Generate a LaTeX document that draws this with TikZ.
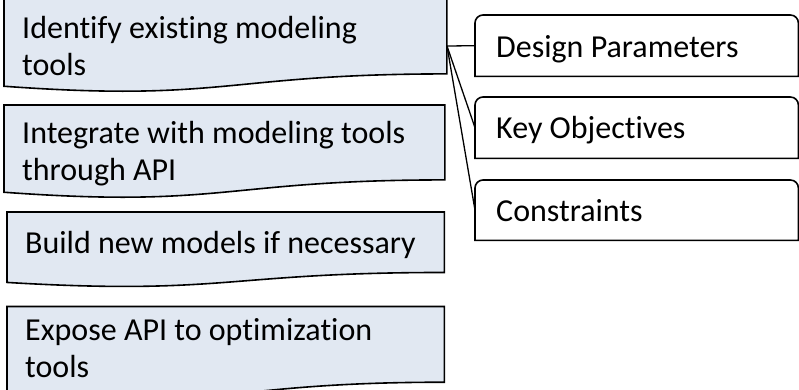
\documentclass[tikz,border=0pt]{standalone}
\usepackage{fontspec}
\setmainfont{Carlito}[Ligatures=NoCommon]
\usetikzlibrary{calc}
\definecolor{boxfill}{HTML}{E1E8F2}
\tikzset{
  docbox/.style={draw=none, inner sep=0pt, anchor=north west},
  doctext/.style={inner sep=0pt, anchor=base west, text width=430pt, align=flush left,
    font=\fontsize{32}{37.5}\selectfont},
  sidetext/.style={inner sep=0pt, anchor=base west,
    font=\fontsize{32}{37.5}\selectfont},
  docline/.style={draw=black, line width=1.6pt, fill=boxfill, line join=miter},
  tabline/.style={draw=black, line width=1.6pt, fill=white},
  link/.style={draw=black, line width=1.3pt}
}
\newcommand{\docshape}[1]{%
  \path[docline] (#1.north west) -- (#1.north east)
    -- ($(#1.north east)!0.802!(#1.south east)$)
    .. controls ($(#1.north)!0.802!(#1.south)$) and ($(#1.north)!1.107!(#1.south)$)
    .. ($(#1.north west)!0.934!(#1.south west)$) -- cycle;}
\newcommand{\tabshape}[1]{%
  \path[tabline] (#1.south west) -- ([yshift=-8pt]#1.north west)
    arc[start angle=180, end angle=90, radius=8pt]
    -- ([xshift=-8pt]#1.north east)
    arc[start angle=90, end angle=0, radius=8pt]
    -- (#1.south east) -- cycle;}
\begin{document}
\begin{tikzpicture}[x=1pt,y=-1pt]
\useasboundingbox (0,0) rectangle (799,389);
% left document boxes
\node[docbox, minimum width=442.5pt, minimum height=93pt] (b1) at (4,-1) {};
\node[docbox, minimum width=440.5pt, minimum height=93pt] (b2) at (4,105) {};
\node[docbox, minimum width=437pt, minimum height=75pt] (b3) at (7,212) {};
\node[docbox, minimum width=437pt, minimum height=94pt] (b4) at (7,306.5) {};
\docshape{b1}
\docshape{b2}
\docshape{b3}
\docshape{b4}
\node[doctext] (t1) at (22,38) {Identify existing modeling\\tools};
\node[doctext] (t2) at (22,143) {Integrate with modeling tools\\through API};
\node[doctext] (t3) at (25,253) {Build new models if necessary};
\node[doctext] (t4) at (25,340) {Expose API to optimization\\tools};
% right tab boxes
\node[docbox, minimum width=323pt, minimum height=61pt] (r1) at (475,15) {};
\node[docbox, minimum width=323pt, minimum height=61pt] (r2) at (475,97) {};
\node[docbox, minimum width=323pt, minimum height=60pt] (r3) at (475,180) {};
\tabshape{r1}
\tabshape{r2}
\tabshape{r3}
\node[sidetext] (s1) at (496,57) {Design Parameters};
\node[sidetext] (s2) at (496,138.5) {Key Objectives};
\node[sidetext] (s3) at (496,221.5) {Constraints};
% connectors
\coordinate (hub) at (447,46);
\draw[link] (hub) -- (r1.west);
\draw[link] (hub) -- (r2.west);
\draw[link] (hub) -- (r3.west);
\end{tikzpicture}
\end{document}
